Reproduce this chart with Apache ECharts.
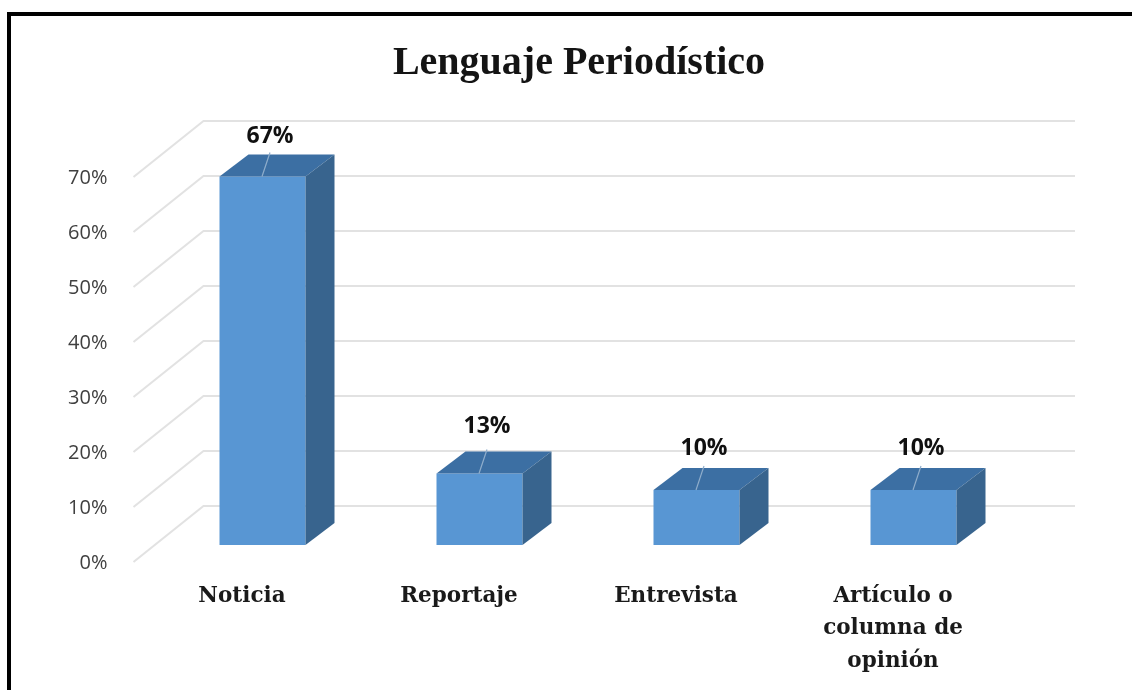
<!DOCTYPE html>
<html>
<head>
<meta charset="utf-8">
<style>html,body{margin:0;padding:0;background:#fff}#c{width:1132px;height:690px}</style>
<script src="https://cdn.jsdelivr.net/npm/echarts@6/dist/echarts.min.js"></script>
</head>
<body>
<div id="c"></div>
<script>
var titleText = 'Lenguaje Periodístico';
var categories = ['Noticia', 'Reportaje', 'Entrevista', 'Artículo o\ncolumna de\nopinión'];
var percentValues = [67, 13, 10, 10];
var axisTicks = [0, 10, 20, 30, 40, 50, 60, 70];

var labelLift = [18, 25, 20, 20];
var chart = echarts.init(document.getElementById('c'), null, {renderer: 'canvas'});

function gridItem(params, api) {
  var p = api.coord([0, api.value(0)]);
  var x0 = params.coordSys.x;
  return {
    type: 'polyline',
    silent: true,
    shape: {points: [[x0, p[1] + 1], [x0 + 70, p[1] - 55], [1075, p[1] - 55]]},
    style: {fill: null, stroke: '#e2e2e2', lineWidth: 2}
  };
}

function barItem(params, api) {
  var i = api.value(0), v = api.value(1);
  var top = api.coord([i, v]), base = api.coord([i, 0]);
  var w = 86, dx = 29, dy = -22, sx = 20.5, sy = -16;
  var l = top[0] + sx - w / 2, r = l + w;
  var t = top[1] + sy, b = base[1] + sy;
  var cx = l + w / 2 - 0.5;
  return {
    type: 'group',
    children: [
      {type: 'polygon', shape: {points: [[l, t], [r, t], [r, b], [l, b]]}, style: {fill: '#5896d3'}},
      {type: 'polygon', shape: {points: [[l, t], [r, t], [r + dx, t + dy], [l + dx, t + dy]]}, style: {fill: '#3c6fa3'}},
      {type: 'polygon', shape: {points: [[r, t], [r + dx, t + dy], [r + dx, b + dy], [r, b]]}, style: {fill: '#38648e'}},
      {type: 'line', shape: {x1: cx, y1: t, x2: cx + 8, y2: t + dy - 2}, style: {stroke: '#8fadcb', lineWidth: 1.2}},
      {type: 'text', style: {
        text: v + '%', x: cx + 8, y: t + dy - labelLift[i],
        align: 'center', verticalAlign: 'middle',
        font: 'bold 23px "Open Sans", sans-serif', fill: '#111111'
      }}
    ]
  };
}

chart.setOption({
  animation: false,
  backgroundColor: '#ffffff',
  title: {
    text: titleText, left: 574, top: 39, textAlign: 'center',
    textStyle: {fontFamily: '"Liberation Serif", serif', fontWeight: 'bold', fontSize: 40, color: '#141414'}
  },
  graphic: [
    {type: 'rect', shape: {x: 7, y: 12, width: 1125, height: 4}, style: {fill: '#000'}},
    {type: 'rect', shape: {x: 7, y: 12, width: 4, height: 678}, style: {fill: '#000'}}
  ],
  grid: {left: 133.5, top: 176, width: 868, height: 385},
  xAxis: {
    type: 'category', data: categories,
    axisLine: {show: false}, axisTick: {show: false}, splitLine: {show: false},
    axisLabel: {
      interval: 0, margin: 19, lineHeight: 32.5,
      fontFamily: '"DejaVu Serif", serif', fontWeight: 'bold', fontSize: 21.5, color: '#1a1a1a'
    }
  },
  yAxis: {
    type: 'value', min: 0, max: 70, interval: 10,
    axisLine: {show: false}, axisTick: {show: false}, splitLine: {show: false},
    axisLabel: {margin: 26, verticalAlign: 'top', lineHeight: 5, formatter: '{value}%', fontFamily: '"Open Sans", sans-serif', fontSize: 20, color: '#404040'}
  },
  series: [
    {type: 'custom', renderItem: gridItem, data: axisTicks.map(function (t) { return [t]; }), clip: false, z: 1, silent: true, encode: {y: 0}},
    {type: 'custom', renderItem: barItem, data: percentValues.map(function (v, i) { return [i, v]; }), clip: false, z: 2, encode: {x: 0, y: 1}}
  ]
});
</script>
</body>
</html>
